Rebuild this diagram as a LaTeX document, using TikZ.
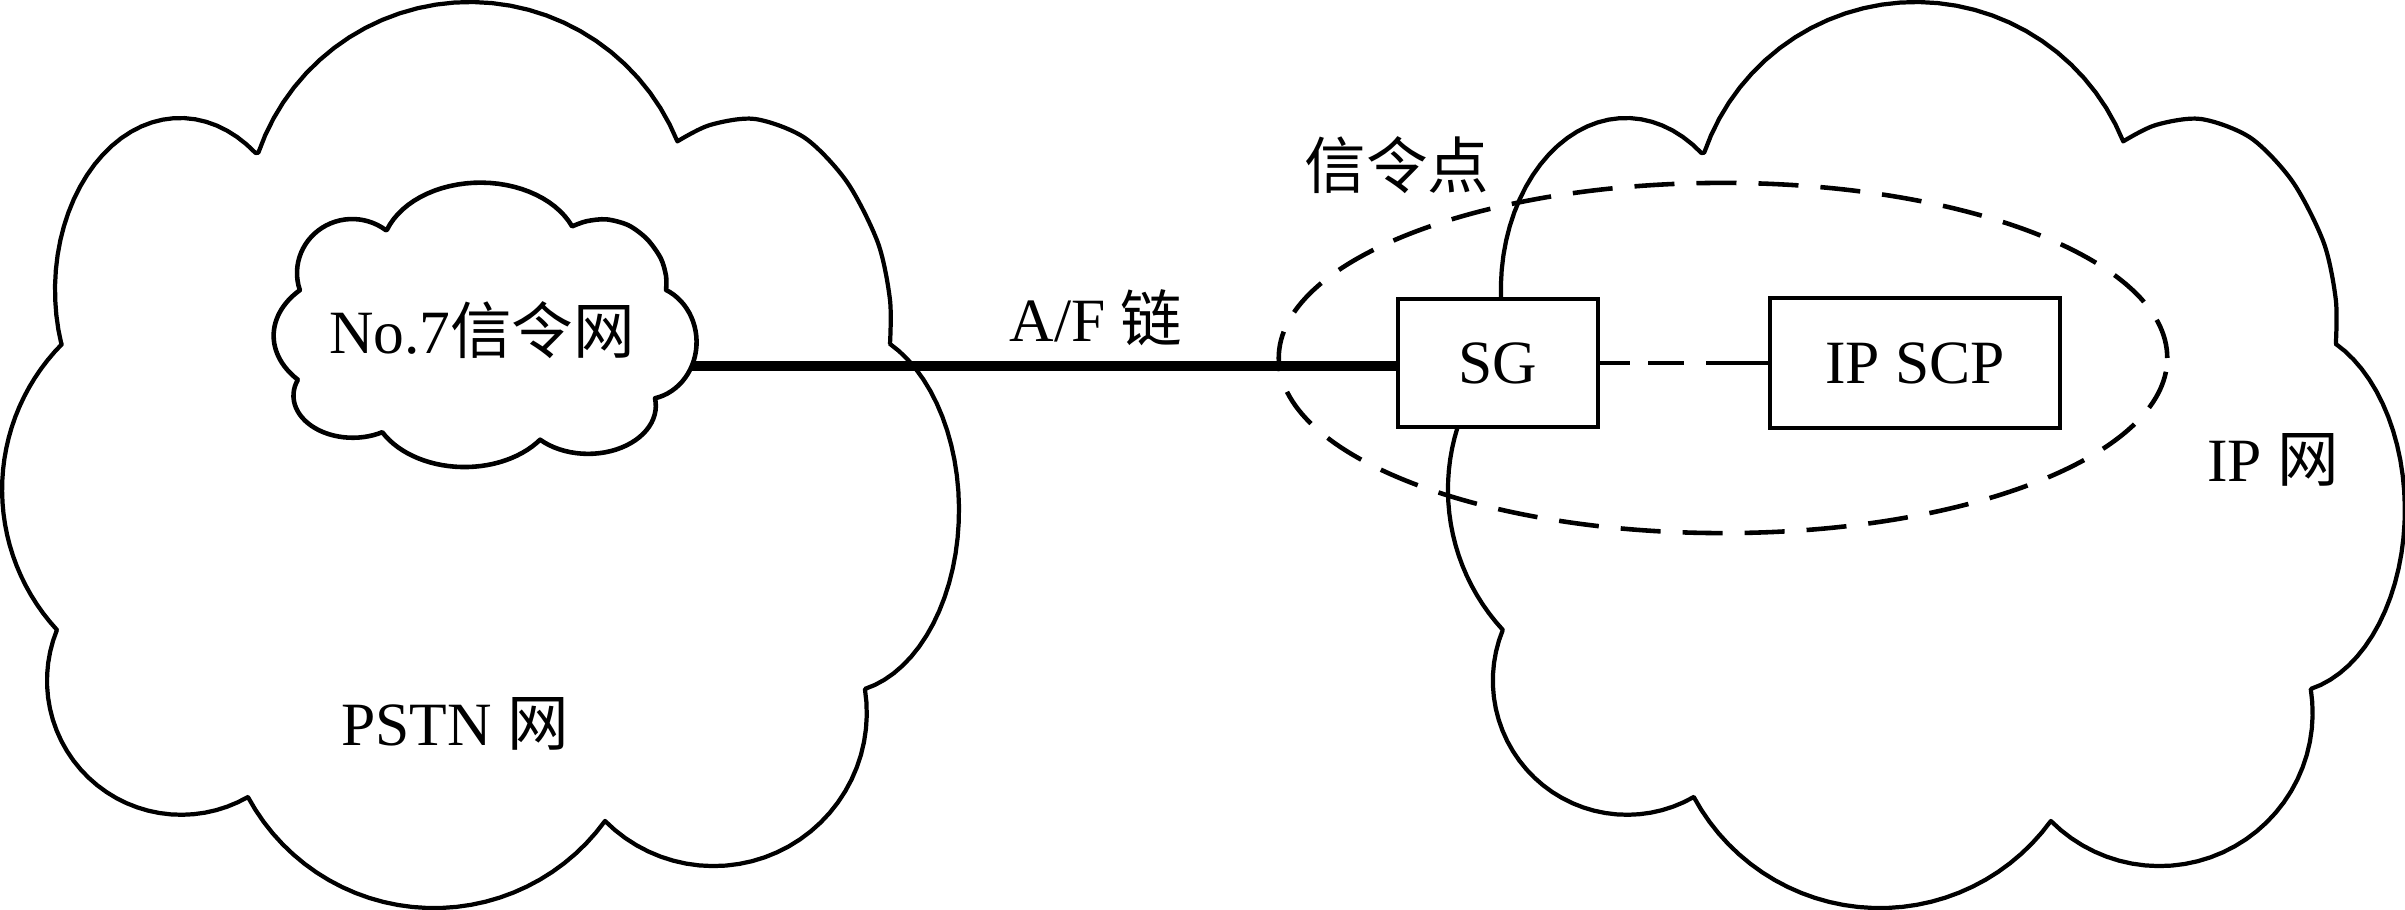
\documentclass[tikz,border=0pt]{standalone}
\usepackage{fontspec}
\setmainfont{Liberation Serif}
\newfontfamily\cjk{Noto Sans CJK SC}
\usetikzlibrary{shapes.geometric}

\tikzset{
  cloudline/.style={line width=1.2pt, line join=round},
  lobe/.style={samples=30, variable=\t},
  netbox/.style={draw, line width=1.15pt, fill=white, inner sep=0pt},
  lbl/.style={font=\fontsize{17.5}{21}\selectfont, inner sep=0pt},
}

% outline of a cloud, in the size of the PSTN cloud
\newcommand{\cloudpath}{%
  (62,344) -- plot[lobe, domain=198.4:52.8] ({180+125*cos(\t)}, {290-172*sin(\t)})
  -- plot[lobe, domain=160.9:22.2] ({470+224*cos(\t)}, {226-224*sin(\t)})
  -- plot[smooth] coordinates {(678,141) (710,125) (755,119) (805,138) (847,182) (878,243) (890,300) (890,344)}
  -- plot[lobe, domain=65.2:-77.9] ({840+119*cos(\t)}, {510-183*sin(\t)})
  -- plot[lobe, domain=9:-135.1] ({713.6+153.2*cos(\t)}, {712.9-153.2*sin(\t)})
  -- plot[lobe, domain=-36:-151.7] ({434+211.4*cos(\t)}, {696.7-211.4*sin(\t)})
  -- plot[lobe, domain=-60.2:-202.2] ({181.2+134.2*cos(\t)}, {680.6-134.2*sin(\t)})
  -- plot[lobe, domain=222.7:135.3] ({209+206.9*cos(\t)}, {489.6-206.9*sin(\t)})
  -- cycle}

\begin{document}
\begin{tikzpicture}[x=0.01cm, y=-0.01cm]
\useasboundingbox (0,0) rectangle (2405,910);

%PSTN cloud
\draw[cloudline] \cloudpath;
%IP cloud
\begin{scope}[xshift=14.45cm]
\draw[cloudline] \cloudpath;
\end{scope}
%No.7 cloud
\begin{scope}[shift={(272.7,182)}, xscale=0.442, yscale=0.3139]
\draw[cloudline, line width=1.3pt] \cloudpath;
\end{scope}
\node[lbl] (no7) at (482,330) {No.7{\cjk 信令网}};
\coordinate (no7e) at (691,366);

%signalling point
\node[draw, ellipse, dashed, dash pattern=on 0.4cm off 0.22cm, line width=1.3pt,
  minimum width=8.88cm, minimum height=3.5cm, inner sep=0pt] (sp) at (1723,358) {};
\node[lbl, netbox, minimum width=2cm, minimum height=1.28cm] (sg) at (1498,363) {SG};
\node[lbl, netbox, minimum width=2.9cm, minimum height=1.29cm] (scp) at (1915,363) {IP SCP};

%links
\draw[line width=3.1pt] (no7e) -- (no7e -| sg.west);
\draw[line width=1.15pt, dash pattern=on 0.3cm off 0.18cm on 0.36cm off 0.22cm on 1cm]
  (sg.east) -- (scp.west);

%labels
\node[lbl] (af) at (1096,318) {A/F {\cjk 链}};
\node[lbl] (spl) at (1397,165) {\cjk 信令点};
\node[lbl] (pstn) at (455,724) {PSTN {\cjk 网}};
\node[lbl] (ipnet) at (2273,460) {IP {\cjk 网}};
\end{tikzpicture}
\end{document}
